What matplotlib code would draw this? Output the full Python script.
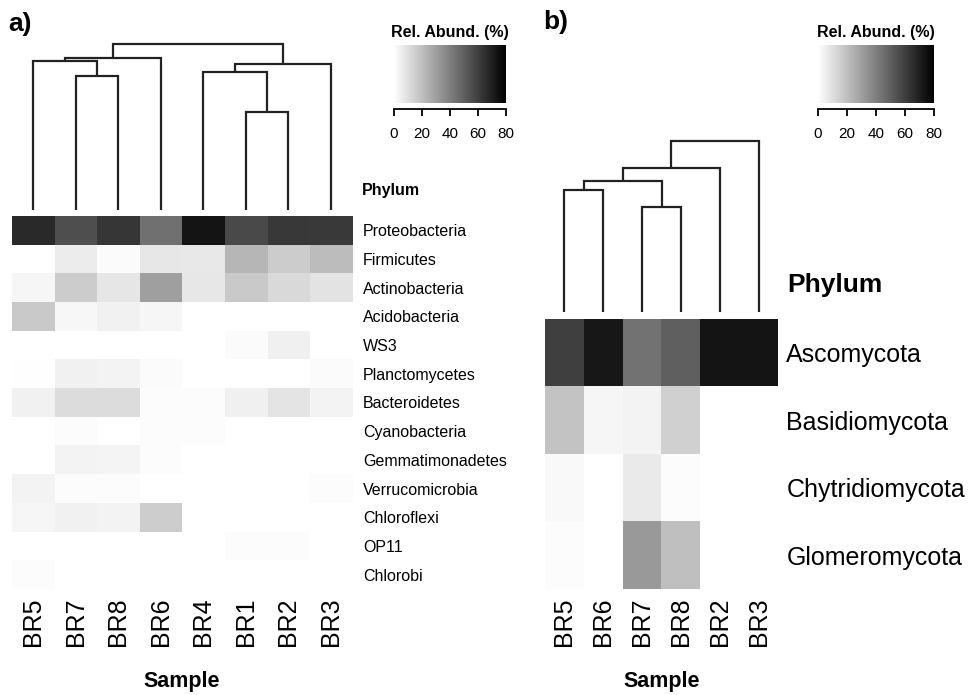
import numpy as np
from matplotlib import pyplot as plt
from matplotlib.colors import LinearSegmentedColormap

plt.rcParams["font.family"] = ["Liberation Sans", "DejaVu Sans"]

# panel a) bacteria
samples_a = ["BR5", "BR7", "BR8", "BR6", "BR4", "BR1", "BR2", "BR3"]
phyla_a = ["Proteobacteria", "Firmicutes", "Actinobacteria", "Acidobacteria", "WS3",
           "Planctomycetes", "Bacteroidetes", "Cyanobacteria", "Gemmatimonadetes",
           "Verrucomicrobia", "Chloroflexi", "OP11", "Chlorobi"]
abund_a = [
    [66.8, 55.5, 63.0, 44.9, 73.7, 56.8, 62.4, 61.8],
    [0.0, 6.0, 1.3, 7.8, 7.2, 23.0, 16.0, 21.0],
    [3.0, 16.0, 8.0, 30.0, 7.8, 17.0, 12.0, 8.8],
    [17.0, 2.5, 4.4, 3.0, 0.0, 0.0, 0.0, 0.0],
    [0.0, 0.0, 0.0, 0.0, 0.0, 1.5, 4.7, 0.0],
    [0.6, 4.5, 4.0, 1.5, 0.0, 0.0, 0.0, 1.5],
    [4.5, 11.0, 11.0, 1.2, 1.2, 4.7, 8.5, 4.0],
    [0.0, 1.0, 0.0, 1.2, 1.2, 0.0, 0.0, 0.0],
    [0.0, 4.0, 3.5, 1.2, 0.0, 0.0, 0.0, 0.0],
    [4.0, 1.0, 1.0, 0.0, 0.0, 0.0, 0.0, 1.0],
    [3.0, 4.5, 4.0, 15.7, 0.0, 0.0, 0.0, 0.0],
    [0.0, 0.0, 0.0, 0.0, 0.0, 1.0, 1.0, 0.0],
    [1.2, 0.0, 0.0, 0.0, 0.0, 0.0, 0.0, 0.0],
]
# merges: (left node, right node, height); leaves 0..n-1, new nodes numbered after
links_a = [(1, 2, 134), (0, 8, 149), (9, 3, 152), (5, 6, 98), (4, 11, 138), (12, 7, 146), (10, 13, 166)]

# panel b) fungi
samples_b = ["BR5", "BR6", "BR7", "BR8", "BR2", "BR3"]
phyla_b = ["Ascomycota", "Basidiomycota", "Chytridiomycota", "Glomeromycota"]
abund_b = [
    [60.0, 72.5, 44.0, 50.0, 73.7, 73.7],
    [18.5, 3.0, 4.0, 14.7, 0.0, 0.0],
    [2.0, 0.0, 6.6, 1.0, 0.0, 0.0],
    [1.2, 0.0, 32.0, 20.0, 0.0, 0.0],
]
links_b = [(0, 1, 122), (2, 3, 105), (6, 7, 131), (8, 4, 144), (9, 5, 171)]

cbar_ticks = [0, 20, 40, 60, 80]

W, H = 971, 695
cmap = LinearSegmentedColormap.from_list("wb", ["white", "black"])


def rect(x0, y0, x1, y1):
    return [x0 / W, 1 - y1 / H, (x1 - x0) / W, (y1 - y0) / H]


def draw_dendro(ax, links, n):
    pos = {i: (i + 0.5, 0.0) for i in range(n)}
    for k, (a, b, h) in enumerate(links):
        xa, ya = pos[a]
        xb, yb = pos[b]
        ax.plot([xa, xa, xb, xb], [ya, h, h, yb], color="#222222", lw=1.6,
                solid_joinstyle="miter", solid_capstyle="butt")
        pos[n + k] = ((xa + xb) / 2, h)
    ax.set_xlim(0, n)
    ax.set_ylim(0, 180)
    ax.axis("off")


def draw_heat(ax, data, samples, phyla, lab_size, ypad):
    arr = np.array(data)
    ax.imshow(arr, cmap=cmap, vmin=0, vmax=80, aspect="auto",
              extent=[0, arr.shape[1], arr.shape[0], 0], interpolation="nearest")
    ax.set_xticks(np.arange(len(samples)) + 0.5)
    ax.set_xticklabels(samples, rotation=90, fontsize=18)
    ax.set_yticks(np.arange(len(phyla)) + 0.5)
    ax.set_yticklabels(phyla, fontsize=lab_size)
    ax.yaxis.tick_right()
    ax.tick_params(length=0)
    ax.tick_params(axis="x", pad=6)
    ax.tick_params(axis="y", pad=ypad)
    for s in ax.spines.values():
        s.set_visible(False)
    ax.set_xlabel("Sample", fontsize=15.5, fontweight="bold", labelpad=18)


def draw_cbar(ax):
    grad = np.linspace(0, 80, 256)[None, :]
    ax.imshow(grad, cmap=cmap, vmin=0, vmax=80, aspect="auto", extent=[0, 80, 0, 1])
    ax.set_xlim(0, 80)
    ax.set_ylim(0, 1)
    ax.set_yticks([])
    ax.set_xticks(cbar_ticks)
    ax.tick_params(axis="x", length=5, width=1.3, labelsize=11, pad=8)
    for k in ["top", "left", "right"]:
        ax.spines[k].set_visible(False)
    ax.spines["bottom"].set_position(("outward", 4))
    ax.spines["bottom"].set_linewidth(1.3)
    ax.set_title("Rel. Abund. (%)", fontsize=11.5, fontweight="bold", pad=6)


fig = plt.figure(figsize=(W / 100, H / 100), dpi=100)

# a)
ax_ha = fig.add_axes(rect(12, 216, 352, 589))
draw_heat(ax_ha, abund_a, samples_a, phyla_a, 11.5, 8)
ax_da = fig.add_axes(rect(12, 30, 352, 210))
draw_dendro(ax_da, links_a, len(samples_a))
draw_cbar(fig.add_axes(rect(394, 45, 506, 103)))
fig.text(362 / W, 1 - 191 / H, "Phylum", fontsize=11.5, fontweight="bold", va="center")
fig.text(8 / W, 1 - 24 / H, "a)", fontsize=19, fontweight="bold", va="center")

# b)
ax_hb = fig.add_axes(rect(545, 319, 778, 589))
draw_heat(ax_hb, abund_b, samples_b, phyla_b, 18, 6)
ax_db = fig.add_axes(rect(545, 132, 778, 312))
draw_dendro(ax_db, links_b, len(samples_b))
draw_cbar(fig.add_axes(rect(818, 45, 934, 103)))
fig.text(787 / W, 1 - 285 / H, "Phylum", fontsize=19, fontweight="bold", va="center")
fig.text(543 / W, 1 - 22 / H, "b)", fontsize=19, fontweight="bold", va="center")

fig.savefig("out.png", dpi=100)
